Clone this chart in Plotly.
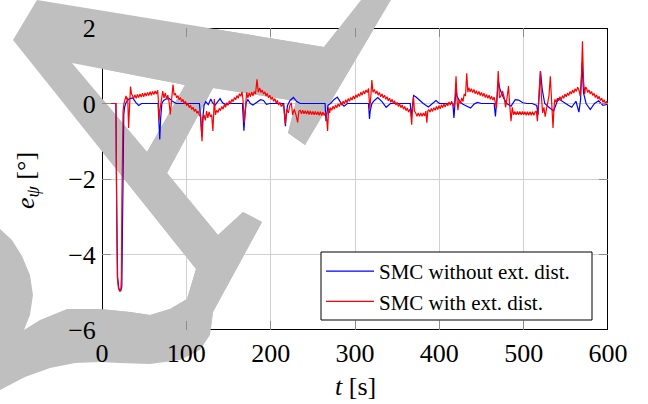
import plotly.graph_objects as go

# ---------------- data ----------------
x_ticks = [0, 100, 200, 300, 400, 500, 600]
y_ticks = [-6, -4, -2, 0, 2]

blue_t = [0, 16.5, 17.5, 18.5, 20, 22, 23.5, 24.3, 25.0, 25.8, 26.8, 28, 30, 33, 36.5, 40, 43.5, 47, 50,
          66.5, 67.5, 68.5, 69.5, 71, 73, 76, 80, 84, 88, 92,
          115.5, 117, 118.3, 119.5, 121, 123, 126, 129, 131, 134, 137, 140, 143, 146, 150,
          166.5, 167.5, 168.3, 169.5, 171, 173, 176, 179, 182, 185, 188, 191.5, 195, 199,
          215.5, 216.5, 217.5, 218.5, 220, 223, 227, 231, 235,
          264.5, 265.6, 266.5, 268, 271, 275, 279, 283, 287, 291,
          316, 317.2, 318, 320, 323, 327, 332, 337, 342,
          365.5, 366.8, 368, 369.5, 372, 376, 381, 387, 392, 396, 400, 405,
          416, 417.3, 418.5, 419.8, 421, 424, 428, 433, 437, 441, 445, 450,
          465, 466.5, 468.5, 470, 472, 476, 480, 485, 490, 494, 499, 504, 510,
          515.5, 517, 518.5, 520, 522, 525, 530, 535.5, 541, 546, 552, 557, 562, 565.5, 567.5, 569.2, 571,
          574, 579, 584, 589, 594, 600]
blue_e = [0, 0, -3.0, -4.6, -4.9, -4.97, -4.85, -3.5, -1.5, -0.3, -0.1, 0.0, 0.08, 0.13, 0.15, 0.03, -0.05, 0.0, 0.0,
          0.0, -0.5, -0.95, -0.4, 0.0, 0.08, 0.12, 0.13, 0.05, 0.0, 0.0,
          0.0, -0.4, -0.87, -0.4, -0.05, 0.05, -0.03, 0.12, 0.02, -0.05, 0.05, 0.13, 0.02, -0.02, 0.0,
          0.0, -0.4, -0.72, -0.3, 0.03, 0.1, 0.0, -0.04, 0.0, 0.05, 0.1, 0.08, -0.02, 0.0,
          0.0, -0.3, -0.6, -0.3, -0.05, 0.08, 0.16, 0.05, 0.0,
          0.0, -0.47, -0.3, -0.05, 0.0, 0.1, 0.17, 0.03, -0.07, 0.0,
          0.0, -0.41, -0.2, 0.0, 0.08, 0.16, 0.05, -0.1, 0.0,
          0.0, -0.35, 0.0, 0.21, 0.18, 0.1, 0.0, -0.09, 0.0, 0.08, 0.0, 0.0,
          0.0, -0.38, 0.0, 0.39, 0.2, 0.05, -0.02, -0.08, -0.12, -0.02, 0.03, 0.0,
          0.0, -0.34, 0.2, 0.59, 0.37, 0.15, 0.0, -0.07, 0.1, 0.09, 0.02, 0.0, 0.0,
          -0.05, -0.3, 0.3, 0.85, 0.37, 0.0, -0.1, -0.2, 0.13, 0.05, -0.03, -0.1, 0.06, -0.23, 0.1, 1.08, 0.28,
          0.0, -0.16, 0.0, 0.07, -0.05, -0.02]

red_t = [0, 16.5, 17.3, 18.2, 19.5, 21, 22.3, 23.0, 23.6, 24.2, 25.0, 26.0, 27.5, 28.5, 29.5, 30.5, 31.5, 32.5, 33.8, 35,
         36, 37.5, 39, 40.5, 42, 43.5, 45, 46.5, 48, 49.5, 51, 52.5, 54, 55.5, 57, 58.5, 60, 61.5, 63, 64.5, 66,
         66.8, 67.6, 68.5, 70, 72, 73.5, 75, 76.5, 78, 79.5, 81, 82.5, 84.2, 85.5,
         87, 88.5, 90, 91.5, 93, 94.5, 96, 97.5, 99, 100.5, 102, 103.5, 105, 106.5, 108, 109.5, 111, 112.5, 114, 115.5,
         117, 118.6, 119.8, 121, 122.5, 124, 125.5, 127, 128.5, 130, 131.5, 133.2, 134.5,
         136, 137.5, 139, 140.5, 142, 143.5, 145, 146.5, 148, 149.5, 151, 152.5, 154, 155.5, 157, 158.5, 160, 161.5, 163, 164.5, 166,
         167.2, 168.7, 170, 171.5, 173, 174.5, 176, 177.5, 179, 180.5, 182, 183.8, 185.3,
         187, 188.5, 190, 191.5, 193, 194.5, 196, 197.5, 199, 200.5, 202, 203.5, 205, 206.5, 208, 209.5, 211, 212.5, 214,
         215.5, 217.4, 219, 221, 222.8, 224.5, 226, 228, 230, 232, 233.5,
         235, 236.5, 238, 239.5, 241, 242.5, 244, 245.5, 247, 248.5, 250, 251.5, 253, 254.5, 256, 257.5, 259, 260.5, 262, 263.5, 265,
         266.3, 267.5, 268.8, 270,
         271, 272.5, 274, 275.5, 277, 278.5, 280, 281.5, 283, 284.5, 286, 287.5, 289, 290.5, 292, 293.5, 295, 296.5, 298, 299.5,
         301, 302.5, 304, 305.5, 307, 308.5, 310, 311.5, 313, 314.5, 316,
         317.5, 318.8, 320, 321.3,
         323, 324.5, 326, 327.5, 329, 330.5, 332, 333.5, 335, 336.5, 338, 339.5, 341, 342.5, 344, 345.5, 347, 348.5, 350, 351.5,
         353, 354.5, 356, 357.5, 359, 360.5, 362, 363.5, 365,
         366.2, 367.2, 368.4, 369.4, 370.5,
         372, 373.5, 375, 376.5, 378, 379.5, 381, 382.5,
         384, 385.2, 386.3,
         387.5, 389, 390.5, 392, 393.5, 395, 396.5, 398, 399.5, 401, 402.5, 404, 405.5, 407, 408.5, 410, 411.5, 413, 414.5, 416,
         417.5, 418.7, 419.8, 421, 422, 423.5, 425, 426.5, 428, 429.5, 431, 432.5, 433.8,
         435, 436.5, 438, 439.5, 441, 442.5, 444, 445.5, 447, 448.5, 450, 451.5, 453, 454.5, 456, 457.5, 459, 460.5, 462, 463.5, 465,
         466.3, 467.8, 469.8, 471.3, 473, 475, 477, 478.5, 480, 482, 483.3, 485, 486.5, 488,
         489.5, 491, 492.5, 494, 495.5, 497, 498.5, 500, 501.5, 503, 504.5, 506, 507.5, 509, 510.5, 512, 513.5,
         515, 516.3, 517.5, 518.7, 519.8, 521, 522.5, 524, 525.5, 527, 528.5, 530, 531.6, 533, 534.8, 536,
         537, 538.5, 540, 541.5, 543, 544.5, 546, 547.5, 549, 550.5, 552, 553.5, 555, 556.5, 558, 559.5, 561, 562.5, 564, 565.5,
         567, 568.5, 569.7, 571, 572.3, 573.3,
         574.5, 576, 577.5, 579, 580.5, 582, 583.5, 585, 586.5, 588, 589.5, 591, 592.5, 594, 595.5, 597, 598.5, 600]
red_e = [0, 0, -2.5, -4.6, -4.9, -4.97, -4.95, -4.6, -2.5, -0.8, -0.2, 0.0, 0.12, 0.2, 0.1, 0.15, -0.65, 0.0, 0.45, 0.25,
         0.22, 0.13, 0.23, 0.14, 0.24, 0.16, 0.25, 0.17, 0.27, 0.18, 0.28, 0.20, 0.29, 0.21, 0.31, 0.22, 0.32, 0.24, 0.33, 0.25, 0.35,
         0.1, -0.45, -0.2, 0.05, 0.33, 0.15, 0.28, 0.12, 0.22, 0.05, -0.29, 0.1, 0.5, 0.22,
         0.27, 0.15, 0.21, 0.10, 0.16, 0.05, 0.11, -0.01, 0.06, -0.06, 0.01, -0.11, -0.05, -0.16, -0.10, -0.21, -0.15, -0.26, -0.20, -0.32,
         -0.3, -1.0, -0.4, -0.3, -0.45, -0.2, -0.38, -0.22, -0.35, -0.3, -0.73, 0.12, -0.3,
         -0.18, -0.24, -0.13, -0.19, -0.08, -0.15, -0.03, -0.10, 0.02, -0.05, 0.07, 0.00, 0.11, 0.05, 0.16, 0.10, 0.21, 0.14, 0.26, 0.19, 0.31,
         0.1, -0.51, 0.0, 0.3, 0.15, 0.28, 0.18, 0.3, 0.2, 0.32, 0.25, 0.64, 0.3,
         0.41, 0.29, 0.36, 0.25, 0.31, 0.20, 0.27, 0.15, 0.22, 0.11, 0.17, 0.06, 0.13, 0.01, 0.08, -0.04, 0.03, -0.08, -0.02,
         -0.1, -0.55, -0.15, -0.25, -0.05, 0.02, -0.3, -0.15, -0.3, -0.5, -0.2,
         -0.18, -0.27, -0.18, -0.27, -0.19, -0.28, -0.19, -0.29, -0.20, -0.29, -0.21, -0.30, -0.21, -0.30, -0.22, -0.31, -0.22, -0.32, -0.23, -0.32, -0.24,
         -0.35, -0.73, -0.1, -0.25,
         -0.11, -0.18, -0.07, -0.15, -0.04, -0.11, -0.01, -0.08, 0.03, -0.05, 0.06, -0.01, 0.10, 0.02, 0.13, 0.06, 0.16, 0.09, 0.20, 0.12,
         0.23, 0.16, 0.26, 0.19, 0.30, 0.22, 0.33, 0.26, 0.36, 0.29, 0.40,
         -0.15, 0.2, 0.62, 0.3,
         0.37, 0.26, 0.33, 0.22, 0.29, 0.18, 0.25, 0.15, 0.22, 0.11, 0.18, 0.07, 0.14, 0.03, 0.11, 0.00, 0.07, -0.04, 0.03, -0.08,
         -0.01, -0.11, -0.04, -0.15, -0.08, -0.19, -0.12, -0.23, -0.15,
         -0.25, -0.56, -0.1, 0.18, -0.2,
         -0.25, -0.34, -0.25, -0.34, -0.25, -0.34, -0.25, -0.33,
         -0.2, -0.51, -0.2,
         -0.16, -0.23, -0.13, -0.21, -0.11, -0.18, -0.08, -0.16, -0.06, -0.14, -0.03, -0.11, -0.01, -0.09, 0.01, -0.06, 0.04, -0.04, 0.06, -0.02,
         -0.1, 0.2, 0.72, 0.1, -0.18, 0.1, 0.0, 0.15, 0.05, 0.25, 0.2, 0.8, 0.3,
         0.42, 0.31, 0.39, 0.29, 0.37, 0.26, 0.34, 0.24, 0.32, 0.21, 0.29, 0.19, 0.27, 0.16, 0.24, 0.14, 0.22, 0.11, 0.19, 0.09, 0.17,
         0.0, -0.12, 0.86, 0.15, 0.2, 0.33, 0.15, -0.1, 0.1, 0.46, 0.0, -0.47, -0.1, -0.3,
         -0.21, -0.30, -0.21, -0.30, -0.21, -0.30, -0.21, -0.30, -0.22, -0.31, -0.22, -0.31, -0.22, -0.31, -0.22, -0.31, -0.23,
         -0.2, -0.47, -0.1, 0.3, 0.86, 0.2, -0.25, -0.1, -0.35, -0.15, 0.0, 0.2, 0.72, 0.0, -0.65, -0.1,
         0.11, 0.03, 0.14, 0.07, 0.18, 0.10, 0.21, 0.14, 0.25, 0.18, 0.28, 0.21, 0.32, 0.25, 0.36, 0.28, 0.39, 0.32, 0.43, 0.36,
         0.2, 0.7, 1.65, 0.6, 0.25, 0.42,
         0.41, 0.29, 0.36, 0.25, 0.32, 0.21, 0.27, 0.16, 0.23, 0.12, 0.19, 0.08, 0.14, 0.03, 0.10, -0.01, 0.06, -0.05]

assert len(blue_t) == len(blue_e)
assert len(red_t) == len(red_e), (len(red_t), len(red_e))

series_names = ["SMC without ext. dist.", "SMC with ext. dist."]

# ---------------- layout geometry (pixels) ----------------
W, H = 648, 404
L, R, T, B = 102, 40, 28, 74
PW, PH = W - L - R, H - T - B
X0, X1, Y0, Y1 = 0, 600, -6, 2


def to_paper(px, py):
    return (px - L) / PW, (H - B - py) / PH


def to_data(px, py):
    xp, yp = to_paper(px, py)
    return X0 + xp * (X1 - X0), Y0 + yp * (Y1 - Y0)


def path_from(points, conv):
    s = ""
    for i, (px, py) in enumerate(points):
        x, y = conv(px, py)
        s += ("M" if i == 0 else "L") + f"{x:.4f},{y:.4f} "
    return s + "Z "


# grey overlay figure (decoration, pixel outline)
outer = [(37, 0), (324, 47), (361, 0), (391, 0), (305, 145), (288, 133), (296, 101), (213, 88),
         (167, 173), (218, 235), (243, 212), (262, 222), (213, 312), (210, 335), (200, 350),
         (180, 360), (150, 364), (120, 363), (100, 362), (75, 363), (50, 368), (25, 377), (0, 390),
         (0, 229), (12, 240), (22, 256), (30, 275), (33, 295), (30, 315), (24, 330),
         (40, 320), (67, 309), (100, 309), (130, 312), (150, 315), (170, 309), (187, 299), (196, 269),
         (13, 40)]
hole = [(72, 63), (147, 152), (185, 85)]

GREY = "#bfbfbf"
FONT = "Liberation Serif"

fig = go.Figure()
fig.add_trace(go.Scatter(x=blue_t, y=blue_e, mode="lines", name=series_names[0],
                         line=dict(color="#0000ff", width=1.2)))
fig.add_trace(go.Scatter(x=red_t, y=red_e, mode="lines", name=series_names[1],
                         line=dict(color="#ff0000", width=1.2)))

# grey figure outside / under the plot area
fig.add_shape(type="path", xref="paper", yref="paper",
              path=path_from(outer, to_paper) + path_from(hole, to_paper),
              fillcolor=GREY, line=dict(width=0), layer="below")
# plot frame (under the grey figure, above the grid)
fig.add_shape(type="rect", xref="x", yref="y", x0=X0, x1=X1, y0=Y0, y1=Y1,
              line=dict(color="black", width=2), fillcolor="rgba(0,0,0,0)", layer="between")
# grey figure inside the plot area: above grid and frame, below the curves
fig.add_shape(type="path", xref="x", yref="y",
              path=path_from(outer, to_data) + path_from(hole, to_data),
              fillcolor=GREY, line=dict(width=0), layer="between")

# legend box
lx0, ly1 = to_paper(321, 252)
lx1, ly0 = to_paper(592, 320)
fig.add_shape(type="rect", xref="paper", yref="paper", x0=lx0, x1=lx1, y0=ly0, y1=ly1,
              line=dict(color="black", width=1), fillcolor="white", layer="above")

axis_common = dict(showgrid=True, gridcolor="#d0d0d0", gridwidth=1, zeroline=False,
                   showline=True, linecolor="rgba(0,0,0,0)", linewidth=1, mirror="ticks",
                   ticks="inside", ticklen=9, tickcolor="#8c8c8c", tickwidth=1,
                   tickfont=dict(family=FONT, size=26, color="black"))

fig.update_xaxes(range=[X0, X1], tickvals=x_ticks, ticktext=[str(v) for v in x_ticks], **axis_common)
fig.update_yaxes(range=[Y0, Y1], tickvals=y_ticks,
                 ticktext=[("\u2212" + str(-v)) if v < 0 else str(v) for v in y_ticks], **axis_common)

fig.add_annotation(xref="paper", yref="paper", x=0.5, y=to_paper(0, 386)[1], showarrow=False,
                   text="<i>t</i> [s]", font=dict(family=FONT, size=26, color="black"),
                   xanchor="center", yanchor="middle")
fig.add_annotation(xref="paper", yref="paper", x=to_paper(27, 0)[0], y=to_paper(0, 181)[1], showarrow=False,
                   text="<i>e</i><sub><i>ψ</i></sub> [°]", textangle=-90,
                   font=dict(family=FONT, size=26, color="black"),
                   xanchor="center", yanchor="middle")

fig.update_layout(
    width=W, height=H,
    margin=dict(l=L, r=R, t=T, b=B, pad=0),
    paper_bgcolor="white", plot_bgcolor="white",
    showlegend=True,
    legend=dict(x=to_paper(321, 0)[0], y=to_paper(0, 251)[1], xanchor="left", yanchor="top",
                bgcolor="rgba(0,0,0,0)", borderwidth=0,
                font=dict(family=FONT, size=21, color="black"),
                itemwidth=48, traceorder="normal"),
)

fig.write_html("out.html")
